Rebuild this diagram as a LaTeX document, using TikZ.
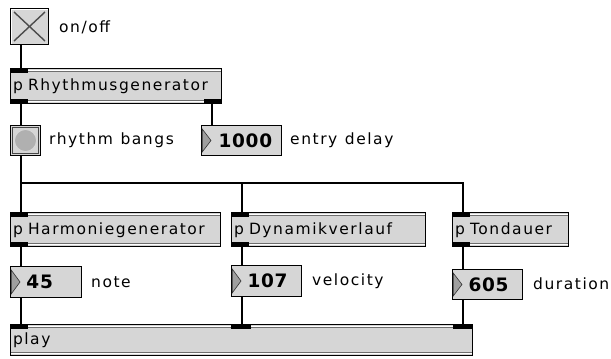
\documentclass[tikz,border=0pt]{standalone}
\usepackage{fontspec}
\setmainfont{DejaVu Sans}
\newfontfamily\maxfont[LetterSpace=10]{DejaVu Sans}
\newfontfamily\maxnum[LetterSpace=4]{DejaVu Sans}
\usetikzlibrary{calc}
\definecolor{boxgray}{HTML}{D6D6D6}
\definecolor{bevel}{HTML}{6E6E6E}
\newcommand\mxdeco[1]{%
  \draw[line width=0.7pt, white] ([shift={(1pt,-2.2pt)}]#1.north west) -- ([shift={(-1pt,-2.2pt)}]#1.north east);
  \draw[line width=0.9pt, bevel] ([shift={(1pt,-3.9pt)}]#1.north west) -- ([shift={(-1pt,-3.9pt)}]#1.north east);
  \draw[line width=0.7pt, white] ([shift={(1pt,2.2pt)}]#1.south west) -- ([shift={(-1pt,2.2pt)}]#1.south east);
  \draw[line width=0.9pt, bevel] ([shift={(1pt,3.9pt)}]#1.south west) -- ([shift={(-1pt,3.9pt)}]#1.south east);
}
\newcommand\mxtri[1]{%
  \filldraw[fill=gray!75, draw=gray!40!black, line width=0.6pt]
    ([shift={(1.2pt,-4pt)}]#1.north west) -- ([shift={(10pt,0pt)}]#1.west) -- ([shift={(1.2pt,4pt)}]#1.south west) -- cycle;
}
\newcommand\mxtext{\maxfont\fontsize{15.5}{18}\selectfont\spaceskip=7.5pt\relax}
\tikzset{
  cord/.style={line width=1.2pt, black},
  port/.style={fill=black},
  objbox/.style={draw=black, line width=1pt, fill=boxgray, anchor=north west,
    inner xsep=2.5pt, inner ysep=0pt, align=left, text height=11pt, text depth=2pt,
    font=\mxtext},
  numbox/.style={draw=black, line width=1pt, fill=boxgray, anchor=north west,
    inner xsep=2pt, inner ysep=0pt, align=left, text height=13.5pt, text depth=0pt,
    font=\maxnum\bfseries\fontsize{18.5}{20}\selectfont},
  uibox/.style={draw=black, line width=1pt, fill=boxgray, anchor=north west, inner sep=0pt},
  lbl/.style={anchor=west, inner sep=0pt, font=\mxtext},
}
\begin{document}
\begin{tikzpicture}[x=1pt, y=-1pt]
\useasboundingbox[fill=white] (0,0) rectangle (611,359);

% toggle
\node[uibox, minimum width=38pt, minimum height=36pt] (toggle) at (10,8) {};
\draw[white, line width=0.8pt] ([shift={(1.5pt,1.5pt)}]toggle.south west) |- ([shift={(-1.5pt,-1.5pt)}]toggle.north east);
\draw[gray!60!black, line width=1.4pt] ([shift={(4pt,-4pt)}]toggle.north west) -- ([shift={(-4pt,4pt)}]toggle.south east);
\draw[gray!60!black, line width=1.4pt] ([shift={(4pt,4pt)}]toggle.south west) -- ([shift={(-4pt,-4pt)}]toggle.north east);
\node[lbl] (lonoff) at (59,27) {on/off};

% Rhythmusgenerator
\node[objbox, minimum width=211pt, minimum height=35pt, text width=206pt] (rhythm) at (10,68) {p Rhythmusgenerator};
\mxdeco{rhythm}
\fill[port] (rhythm.north west) rectangle ++(18pt,-5pt);
\fill[port] (rhythm.south west) rectangle ++(18pt,5pt);
\fill[port] (rhythm.south east) rectangle ++(-18pt,5pt);

% bang
\node[uibox, minimum width=30pt, minimum height=30pt] (bang) at (10,125) {};
\draw[gray!55!black, line width=0.7pt] ([shift={(2.5pt,2.5pt)}]bang.south west) rectangle ([shift={(-2.5pt,-2.5pt)}]bang.north east);
\filldraw[fill=gray!62, draw=gray!30, line width=0.8pt] (bang.center) circle (11pt);
\node[lbl] (lbang) at (49,140) {rhythm bangs};

% entry delay number box
\node[numbox, minimum width=80pt, minimum height=30pt, text width=76pt] (n1000) at (201,125) {\hspace*{15pt}1000};
\mxtri{n1000}
\node[lbl] (ldelay) at (290,140) {entry delay};

% second row
\node[objbox, minimum width=210pt, minimum height=34pt, text width=205pt] (harm) at (10,212) {p Harmoniegenerator};
\node[objbox, minimum width=194pt, minimum height=34pt, text width=189pt] (dyn) at (231,212) {p Dynamikverlauf};
\node[objbox, minimum width=116pt, minimum height=34pt, text width=111pt] (tond) at (452,212) {p Tondauer};
\mxdeco{harm}\mxdeco{dyn}\mxdeco{tond}
\foreach \n in {harm,dyn,tond}{
  \fill[port] (\n.north west) rectangle ++(18pt,-5pt);
  \fill[port] (\n.south west) rectangle ++(18pt,5pt);
}

% number boxes
\node[numbox, minimum width=71pt, minimum height=31pt, text width=67pt] (n45) at (10,266) {\hspace*{14pt}45};
\node[numbox, minimum width=70pt, minimum height=31pt, text width=66pt] (n107) at (231,265) {\hspace*{14pt}107};
\node[numbox, minimum width=70pt, minimum height=30pt, text width=66pt] (n605) at (452,269) {\hspace*{14pt}605};
\mxtri{n45}\mxtri{n107}\mxtri{n605}
\node[lbl] (lnote) at (91,282) {note};
\node[lbl] (lvel) at (312,281) {velocity};
\node[lbl] (ldur) at (533,284) {duration};

% play
\node[objbox, minimum width=462pt, minimum height=31pt, text width=457pt] (play) at (10,324) {play};
\mxdeco{play}
\fill[port] (play.north west) rectangle ++(18pt,-5pt);
\fill[port] ([xshift=221pt]play.north west) rectangle ++(20pt,-5pt);
\fill[port] (play.north east) rectangle ++(-20pt,-5pt);

% cords
\coordinate (busM) at (242,183);
\coordinate (busR) at (463,183);
\draw[cord] ([xshift=11pt]toggle.south west) -- ([xshift=11pt]toggle.south west |- rhythm.north);
\draw[cord] ([xshift=11pt]rhythm.south west) -- ([xshift=11pt]rhythm.south west |- bang.north);
\draw[cord] ([xshift=-10pt]rhythm.south east) -- ([xshift=-10pt]rhythm.south east |- n1000.north);
\draw[cord] ([xshift=11pt]bang.south west) -- ([xshift=11pt]bang.south west |- harm.north);
\draw[cord] ([xshift=11pt]bang.south west) |- (busR) -- (busR |- tond.north);
\draw[cord] (busM) -- (busM |- dyn.north);
\draw[cord] ([xshift=11pt]harm.south west) -- ([xshift=11pt]harm.south west |- n45.north);
\draw[cord] ([xshift=11pt]dyn.south west) -- ([xshift=11pt]dyn.south west |- n107.north);
\draw[cord] ([xshift=11pt]tond.south west) -- ([xshift=11pt]tond.south west |- n605.north);
\draw[cord] ([xshift=11pt]n45.south west) -- ([xshift=11pt]n45.south west |- play.north);
\draw[cord] ([xshift=11pt]n107.south west) -- ([xshift=11pt]n107.south west |- play.north);
\draw[cord] ([xshift=11pt]n605.south west) -- ([xshift=11pt]n605.south west |- play.north);
\end{tikzpicture}
\end{document}
